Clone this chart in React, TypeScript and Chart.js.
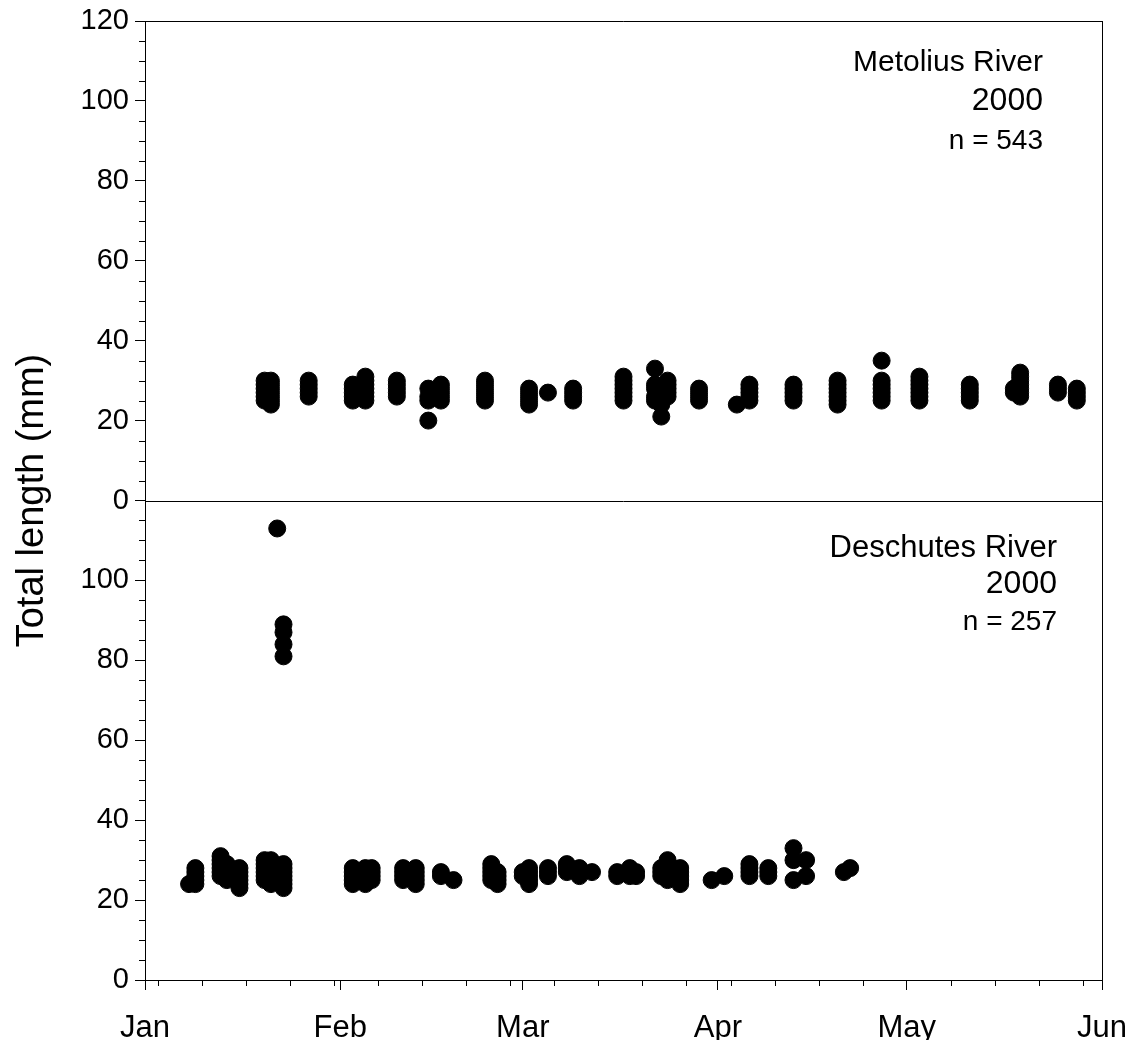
import React, { useEffect, useRef } from "react";
import { Chart, registerables } from "chart.js";

Chart.register(...registerables);

// ---- axis definitions (day-of-year 2000, Jan 1 = 0) ----
const monthTickDays = [0, 31, 60, 91, 121, 152];
const monthTickLabels = ["Jan", "Feb", "Mar", "Apr", "May", "Jun"];
const weekTickDays = [2, 9, 16, 23, 30, 37, 44, 51, 58, 65, 72, 79, 86, 93, 100, 107, 114, 128, 135, 142, 149];
const yMajorTicks = [0, 20, 40, 60, 80, 100, 120];
const yMinorTicks = [5, 10, 15, 25, 30, 35, 45, 50, 55, 65, 70, 75, 85, 90, 95, 105, 110, 115];

// ---- Metolius River 2000 (n = 543) ----
const metoliusDays = [19, 20, 26, 33, 35, 40, 45, 47, 54, 61, 64, 68, 76, 81, 82, 83, 88, 94, 96, 103, 110, 117, 123, 131, 138, 139, 145, 148];
const metoliusLengths = [
  [25, 26, 27, 28, 29, 30],
  [24, 25, 26, 27, 28, 29, 30],
  [26, 27, 28, 29, 30],
  [25, 26, 27, 28, 29],
  [25, 26, 27, 28, 29, 30, 31],
  [26, 27, 28, 29, 30],
  [20, 25, 26, 28],
  [25, 26, 27, 28, 29],
  [25, 26, 27, 28, 29, 30],
  [24, 25, 26, 27, 28],
  [27],
  [25, 26, 27, 28],
  [25, 26, 27, 28, 29, 30, 31],
  [33, 29, 28, 26, 25],
  [21, 24],
  [26, 27, 28, 29, 30],
  [25, 26, 27, 28],
  [24],
  [25, 26, 27, 28, 29],
  [25, 26, 27, 28, 29],
  [24, 25, 26, 27, 28, 29, 30],
  [25, 26, 27, 28, 29, 30, 35],
  [25, 26, 27, 28, 29, 30, 31],
  [25, 26, 27, 28, 29],
  [27, 28],
  [26, 27, 28, 29, 30, 31, 32],
  [27, 28, 29],
  [25, 26, 27, 28],
];

// ---- Deschutes River 2000 (n = 257) ----
const deschutesDays = [7, 8, 12, 13, 15, 19, 20, 21, 22, 33, 35, 36, 41, 43, 47, 49, 55, 56, 60, 61, 64, 67, 69, 71, 75, 77, 78, 82, 83, 85, 90, 92, 96, 99, 103, 105, 111, 112];
const deschutesLengths = [
  [24],
  [24, 25, 26, 27, 28],
  [26, 27, 28, 29, 30, 31],
  [25, 26, 27, 28, 29],
  [23, 24, 25, 26, 27, 28],
  [25, 26, 27, 28, 29, 30],
  [24, 25, 26, 27, 28, 29, 30],
  [113],
  [23, 24, 25, 26, 27, 28, 29, 81, 84, 87, 89],
  [24, 25, 26, 27, 28],
  [24, 25, 26, 27, 28],
  [25, 26, 27, 28],
  [25, 26, 27, 28],
  [24, 25, 26, 27, 28],
  [26, 27],
  [25],
  [25, 26, 27, 28, 29],
  [24, 25, 26, 27],
  [26, 27],
  [24, 25, 26, 27, 28],
  [26, 27, 28],
  [27, 28, 29],
  [26, 27, 28],
  [27],
  [26, 27],
  [26, 27, 28],
  [26, 27],
  [26, 27, 28],
  [25, 26, 27, 28, 29, 30],
  [24, 25, 26, 27, 28],
  [25],
  [26],
  [26, 27, 28, 29],
  [26, 27, 28],
  [25, 30, 33],
  [26, 30],
  [27],
  [28],
];

const topLabels = ["Metolius River", "2000", "n = 543"];
const bottomLabels = ["Deschutes River", "2000", "n = 257"];
const yTitle = "Total length (mm)";

const FONT = "'Liberation Sans', Arial, Helvetica, sans-serif";

function toPoints(days: number[], lengths: number[][]) {
  const pts: { x: number; y: number }[] = [];
  days.forEach((d, i) => lengths[i].forEach((v) => pts.push({ x: d, y: v })));
  return pts;
}

const decorPlugin = {
  id: "decor",
  afterDraw(chart: any) {
    const ctx = chart.ctx;
    const area = chart.chartArea;
    const x = chart.scales.x;
    const yT = chart.scales.yTop;
    const yB = chart.scales.yBot;
    ctx.save();
    ctx.strokeStyle = "#000";
    ctx.lineWidth = 1;
    // frame top/right and separator
    ctx.beginPath();
    ctx.moveTo(area.left, Math.round(area.top) + 0.5);
    ctx.lineTo(area.right + 0.5, Math.round(area.top) + 0.5);
    ctx.moveTo(Math.round(area.right) + 0.5, area.top);
    ctx.lineTo(Math.round(area.right) + 0.5, area.bottom);
    const sep = Math.round(yT.getPixelForValue(0)) + 0.5;
    ctx.moveTo(area.left, sep);
    ctx.lineTo(area.right, sep);
    ctx.stroke();
    // minor ticks x
    ctx.beginPath();
    weekTickDays.forEach((d) => {
      const px = Math.round(x.getPixelForValue(d)) + 0.5;
      ctx.moveTo(px, area.bottom);
      ctx.lineTo(px, area.bottom + 6);
    });
    // minor ticks y (both panels)
    [yT, yB].forEach((s) => {
      yMinorTicks.forEach((v) => {
        const py = Math.round(s.getPixelForValue(v)) + 0.5;
        ctx.moveTo(area.left, py);
        ctx.lineTo(area.left - 6, py);
      });
    });
    ctx.stroke();

    // annotations
    ctx.fillStyle = "#000";
    ctx.textAlign = "right";
    ctx.textBaseline = "middle";
    const drawBlock = (labels: string[], xr: number, ys: number[], nameSize: number) => {
      ctx.font = `${nameSize}px ${FONT}`;
      ctx.fillText(labels[0], xr, ys[0]);
      ctx.font = `32px ${FONT}`;
      ctx.fillText(labels[1], xr, ys[1]);
      ctx.font = `28px ${FONT}`;
      ctx.fillText(labels[2], xr, ys[2]);
    };
    drawBlock(topLabels, 1043, [yT.getPixelForValue(109.5), yT.getPixelForValue(100), yT.getPixelForValue(90)], 30);
    drawBlock(bottomLabels, 1057, [yB.getPixelForValue(108), yB.getPixelForValue(99), yB.getPixelForValue(89.5)], 31);

    // y title
    ctx.save();
    ctx.translate(33, (area.top + area.bottom) / 2);
    ctx.rotate(-Math.PI / 2);
    ctx.textAlign = "center";
    ctx.textBaseline = "middle";
    ctx.font = `38px ${FONT}`;
    ctx.fillText(yTitle, 0, 0);
    ctx.restore();
    ctx.restore();
  },
};

const yScaleBase = (hideTop: boolean, weight: number) => ({
  type: "linear" as const,
  position: "left" as const,
  stack: "rivers",
  stackWeight: 1,
  weight,
  min: 0,
  max: 120,
  afterBuildTicks: (s: any) => {
    s.ticks = yMajorTicks.map((v) => ({ value: v }));
  },
  afterFit: (s: any) => {
    s.width = 145;
    s.paddingTop = 0;
    s.paddingBottom = 0;
  },
  ticks: {
    color: "#000",
    font: { family: FONT, size: 29 },
    padding: 6,
    callback: (v: any) => (hideTop && v === 120 ? "" : String(v)),
  },
  grid: {
    drawOnChartArea: false,
    drawTicks: true,
    tickLength: 10,
    tickColor: "#000",
    color: "#000",
  },
  border: { display: true, color: "#000", width: 1 },
});

export default function App() {
  const canvasRef = useRef<HTMLCanvasElement | null>(null);

  useEffect(() => {
    if (!canvasRef.current) return;
    const chart = new Chart(canvasRef.current, {
      type: "scatter",
      data: {
        datasets: [
          {
            label: "Metolius River",
            data: toPoints(metoliusDays, metoliusLengths),
            yAxisID: "yTop",
            pointRadius: 8.5,
            pointBackgroundColor: "#000",
            pointBorderColor: "#000",
            pointBorderWidth: 1,
          },
          {
            label: "Deschutes River",
            data: toPoints(deschutesDays, deschutesLengths),
            yAxisID: "yBot",
            pointRadius: 8.5,
            pointBackgroundColor: "#000",
            pointBorderColor: "#000",
            pointBorderWidth: 1,
          },
        ],
      },
      options: {
        responsive: false,
        animation: false,
        layout: { padding: { top: 21, right: 30, left: 0, bottom: 0 } },
        plugins: { legend: { display: false }, tooltip: { enabled: false } },
        scales: {
          x: {
            type: "linear",
            position: "bottom",
            min: 0,
            max: 152,
            afterBuildTicks: (s: any) => {
              s.ticks = monthTickDays.map((v) => ({ value: v }));
            },
            afterFit: (s: any) => {
              s.height = 60;
              s.paddingLeft = 0;
              s.paddingRight = 0;
            },
            ticks: {
              autoSkip: false,
              maxRotation: 0,
              color: "#000",
              font: { family: FONT, size: 31 },
              padding: 20,
              callback: (v: any) => {
                const i = monthTickDays.indexOf(Number(v));
                return i >= 0 ? monthTickLabels[i] : "";
              },
            },
            grid: {
              drawOnChartArea: false,
              drawTicks: true,
              tickLength: 10,
              tickColor: "#000",
              color: "#000",
            },
            border: { display: true, color: "#000", width: 1 },
          },
          yTop: yScaleBase(false, 2),
          yBot: yScaleBase(true, 1),
        },
      } as any,
      plugins: [decorPlugin],
    });
    return () => chart.destroy();
  }, []);

  return (
    <div style={{ position: "absolute", left: 0, top: 0, width: 1132, height: 1040, background: "#fff" }}>
      <canvas ref={canvasRef} width={1132} height={1040} />
    </div>
  );
}
